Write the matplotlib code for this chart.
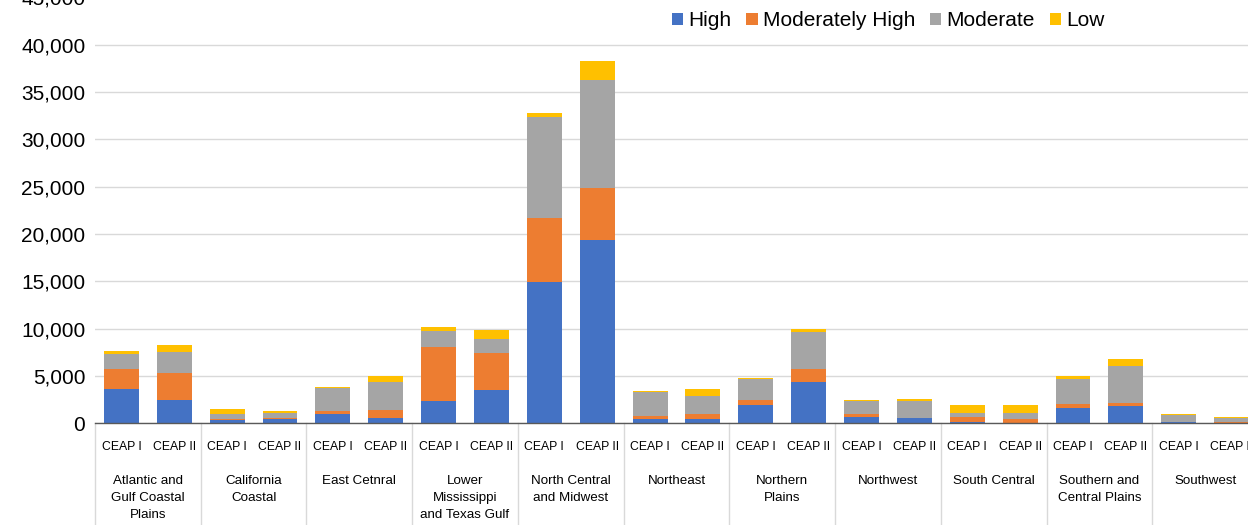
import matplotlib
matplotlib.use("Agg")
import matplotlib.pyplot as plt
from matplotlib.patches import Patch
from matplotlib.ticker import FuncFormatter
import matplotlib.transforms as mtransforms
import numpy as np

plt.rcParams['font.family'] = ['Liberation Sans', 'DejaVu Sans']

regions = ["Atlantic and\nGulf Coastal\nPlains", "California\nCoastal", "East Cetnral",
           "Lower\nMississippi\nand Texas Gulf", "North Central\nand Midwest", "Northeast",
           "Northern\nPlains", "Northwest", "South Central", "Southern and\nCentral Plains",
           "Southwest"]
periods = ["CEAP I", "CEAP II"]
series_names = ["High", "Moderately High", "Moderate", "Low"]
colors = ["#4472C4", "#ED7D31", "#A5A5A5", "#FFC000"]

# values ordered region by region: CEAP I, CEAP II
high = [3600, 2500, 300, 500, 950, 600, 2350, 3480, 14900, 19400, 420, 420,
        1900, 4350, 700, 530, 170, 60, 1660, 1830, 100, 80]
mod_high = [2100, 2800, 150, 100, 350, 800, 5740, 3980, 6800, 5450, 350, 530,
            600, 1350, 250, 70, 530, 360, 420, 280, 80, 50]
moderate = [1650, 2200, 550, 450, 2400, 2950, 1660, 1440, 10600, 11450, 2530, 1930,
            2200, 3940, 1380, 1780, 440, 640, 2570, 3940, 700, 400]
low = [250, 750, 550, 200, 100, 650, 450, 950, 500, 2000, 70, 740,
       70, 290, 100, 170, 740, 890, 310, 710, 140, 140]

W, H = 1248, 525
fig = plt.figure(figsize=(W / 100, H / 100), dpi=100)
base_px = 423.3
px_per_unit = 1 / 105.6
ax_h = 45000 * px_per_unit
left_px, right_px = 95, 1258
ax = fig.add_axes([left_px / W, (H - base_px) / H, (right_px - left_px) / W, ax_h / H])

n = len(high)
x = np.arange(n)
bottom = np.zeros(n)
for vals, c, name in zip([high, mod_high, moderate, low], colors, series_names):
    v = np.array(vals, dtype=float)
    ax.bar(x, v, bottom=bottom, width=0.66, color=c, label=name, zorder=3)
    bottom += v

ax.set_xlim(-0.5, n - 0.5)
ax.set_ylim(0, 45000)
ax.set_yticks(np.arange(0, 45001, 5000))
ax.yaxis.set_major_formatter(FuncFormatter(lambda v, p: f"{int(v):,}"))
ax.tick_params(axis='y', length=0, labelsize=15, pad=7, labelcolor='#000000')
ax.grid(axis='y', color='#D9D9D9', linewidth=1, zorder=0)
for s in ['top', 'right', 'left']:
    ax.spines[s].set_visible(False)
ax.spines['bottom'].set_color('#595959')
ax.spines['bottom'].set_linewidth(1)
ax.spines['bottom'].set_zorder(4)

ax.set_xticks(x)
ax.set_xticklabels([periods[i % 2] for i in range(n)])
ax.tick_params(axis='x', length=0, labelsize=8.8, pad=12.4)

trans = mtransforms.blended_transform_factory(ax.transData, ax.transAxes)
px_to_ax = 1 / ax_h
for i, r in enumerate(regions):
    ax.text(2 * i + 0.5, -(475 - base_px) * px_to_ax, r, transform=trans,
            ha='center', va='top', fontsize=9.6, linespacing=1.55)
for b in range(len(regions) + 1):
    xb = 2 * b - 0.5
    ax.plot([xb, xb], [0, -0.3], transform=trans, color='#D9D9D9', lw=1,
            clip_on=False, zorder=1)

handles = [Patch(facecolor=c, label=nm) for c, nm in zip(colors, series_names)]
fig.legend(handles=handles, loc='center left', bbox_to_anchor=(672 / W, 1 - 20.7 / H),
           ncol=4, frameon=False, fontsize=15, handlelength=0.55, handleheight=0.55,
           handletextpad=0.25, columnspacing=0.7, borderpad=0, borderaxespad=0)

fig.savefig("out.png", dpi=100)
